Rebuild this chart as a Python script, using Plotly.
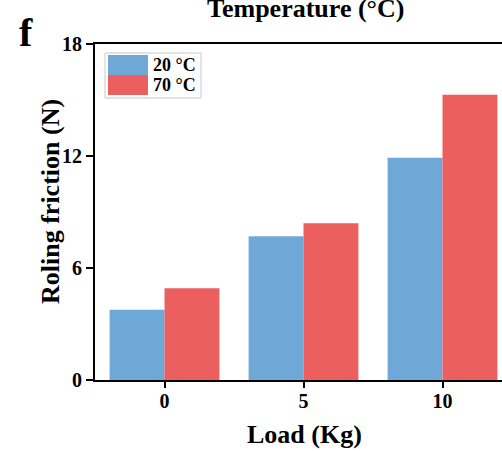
import plotly.graph_objects as go

loads = ["0", "5", "10"]
series_names = ["20 °C", "70 °C"]
friction_20 = [3.76, 7.70, 11.91]
friction_70 = [4.91, 8.40, 15.28]
colors = ["#6FA8D6", "#EC5F5F"]
y_ticks = [0, 6, 12, 18]

FONT = "Liberation Serif"

fig = go.Figure()
for name, vals, col in zip(series_names, [friction_20, friction_70], colors):
    fig.add_trace(go.Bar(x=loads, y=vals, name=name, marker=dict(color=col, line=dict(width=0)),
                         showlegend=False))

fig.update_layout(
    width=502, height=451,
    margin=dict(l=95, r=0, t=44, b=71, autoexpand=False),
    paper_bgcolor="white", plot_bgcolor="white",
    barmode="group", bargap=0.21, bargroupgap=0,
    font=dict(family=FONT, color="black"),
)
fig.update_xaxes(
    type="category", range=[-0.5, 2.428], automargin=False,
    showline=True, linecolor="black", linewidth=2, mirror=True,
    ticks="outside", ticklen=6, tickwidth=2, tickcolor="black", ticklabelstandoff=-4,
    tickfont=dict(family=FONT, size=20, color="black", weight="bold"),
    showgrid=False,
)
fig.update_yaxes(
    range=[0, 18], tickvals=y_ticks, automargin=False,
    showline=True, linecolor="black", linewidth=2, mirror=False,
    ticks="outside", ticklen=7, tickwidth=2, tickcolor="black",
    tickfont=dict(family=FONT, size=20, color="black", weight="bold"),
    showgrid=False, zeroline=False,
)

# Axis titles
fig.add_annotation(xref="paper", yref="paper", x=(304 - 95) / 407, y=-(434 - 380) / 336,
                   xanchor="center", yanchor="middle", text="<b>Load (Kg)</b>", showarrow=False,
                   font=dict(family=FONT, size=26, color="black"))
fig.add_annotation(xref="paper", yref="paper", x=(50 - 95) / 407, y=1 - (202 - 44) / 336,
                   xanchor="center", yanchor="middle", textangle=-90,
                   text="<b>Roling friction (N)</b>", showarrow=False,
                   font=dict(family=FONT, size=26, color="black"))

# Custom legend box with large swatches
fig.add_shape(type="rect", xref="paper", yref="paper", x0=0.0246, x1=0.2604, y0=0.8393, y1=0.9732,
              line=dict(color="#C8C8C8", width=1), fillcolor="white", layer="above")
sw_y = [(0.9673, 0.9077), (0.9077, 0.8482)]
for (y1, y0), col, name in zip(sw_y, colors, series_names):
    fig.add_shape(type="rect", xref="paper", yref="paper", x0=0.0319, x1=0.1302, y0=y0, y1=y1,
                  line=dict(width=0), fillcolor=col, layer="above")
    fig.add_annotation(xref="paper", yref="paper", x=0.137, y=(y0 + y1) / 2, xanchor="left", yanchor="middle",
                       text=f"<b>{name}</b>", showarrow=False,
                       font=dict(family=FONT, size=18, color="black"))

fig.add_annotation(xref="paper", yref="paper", x=(305 - 95) / 407, y=1.107, xanchor="center", yanchor="middle",
                   text="<b>Temperature (°C)</b>", showarrow=False,
                   font=dict(family=FONT, size=26, color="black"))
fig.add_annotation(xref="paper", yref="paper", x=-0.170, y=1.033, xanchor="center", yanchor="middle",
                   text="<b>f</b>", showarrow=False,
                   font=dict(family=FONT, size=40, color="black"))

fig.write_html("out.html", config={"displayModeBar": False},
               post_script="document.body.style.margin='0';document.body.style.overflow='hidden';")
